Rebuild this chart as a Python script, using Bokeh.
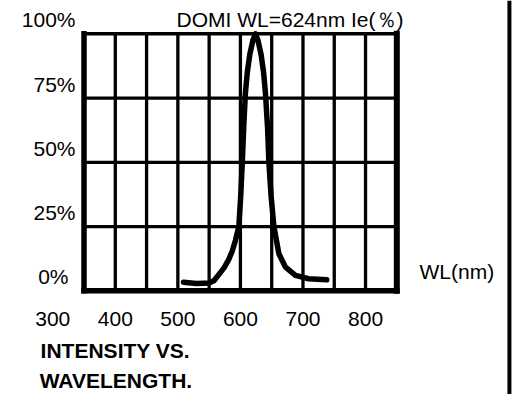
from bokeh.plotting import figure
from bokeh.models import Range1d
from bokeh.core.properties import value
from bokeh.embed import file_html
from bokeh.resources import INLINE

# ---- data ----
wavelength = [509, 530, 550, 558, 566, 574, 581, 587, 592, 597.5, 600.5, 603, 605.5, 608, 611, 615, 620,
              624, 628, 633, 637, 640, 643.5, 645.5, 649, 653.5, 661.5, 672, 688, 709, 738]
intensity = [3.3, 2.8, 3.0, 4.0, 6.5, 9.0, 12, 15.5, 19.6, 25, 37, 50, 65, 77, 85, 92, 97.5,
             100, 97.5, 92, 85, 77, 63, 50, 37, 25, 14.4, 9.2, 6.0, 4.7, 4.3]

x_grid = [400, 450, 500, 550, 600, 650, 700, 750, 800]
y_grid = [25, 50, 75]
x_min, x_max = 350, 850
y_min, y_max = 0, 100

x_tick_values = [300, 400, 500, 600, 700, 800]
x_tick_labels = ["300", "400", "500", "600", "700", "800"]
y_tick_values = [100, 75, 50, 25, 0]
y_tick_labels = ["100%", "75%", "50%", "25%", "0%"]

title_text = "DOMI WL=624nm  Ie(％)"
unit_text = "WL(nm)"
caption_lines = ["INTENSITY VS.", "WAVELENGTH."]

FONT = value("Liberation Sans")
FS = "21px"

X0, X1 = 216.5, 1047.7
Y0, Y1 = -40.35, 112.96

p = figure(width=520, height=394,
           x_range=Range1d(X0, X1), y_range=Range1d(Y0, Y1),
           output_backend="svg", toolbar_location=None,
           x_axis_location=None, y_axis_location=None,
           min_border=0, outline_line_color=None)
p.title.visible = False
p.xgrid.grid_line_color = None
p.ygrid.grid_line_color = None
p.background_fill_color = "white"
p.border_fill_color = "white"

# grid lines
p.segment(x0=x_grid, y0=[y_min] * len(x_grid), x1=x_grid, y1=[y_max] * len(x_grid),
          line_color="black", line_width=3.3)
p.segment(x0=[x_min] * len(y_grid), y0=y_grid, x1=[x_max] * len(y_grid), y1=y_grid,
          line_color="black", line_width=3.2)

# frame borders
p.segment(x0=[x_min], y0=[y_min], x1=[x_min], y1=[y_max], line_color="black", line_width=5.5, line_cap="square")
p.segment(x0=[x_max], y0=[y_min], x1=[x_max], y1=[y_max], line_color="black", line_width=6, line_cap="square")
p.segment(x0=[x_min], y0=[y_min], x1=[x_max], y1=[y_min], line_color="black", line_width=5.5, line_cap="square")
p.segment(x0=[x_min], y0=[y_max], x1=[x_max], y1=[y_max], line_color="black", line_width=3.5, line_cap="square")

# scanned page edge on the right
p.segment(x0=[1030], y0=[Y0], x1=[1030], y1=[Y1], line_color="black", line_width=4)

# spectrum curve
p.line(wavelength, intensity, line_color="black", line_width=5.5, line_join="round", line_cap="round")

# y tick labels
p.text(x=[x_min] * len(y_tick_values), y=y_tick_values, text=y_tick_labels,
       x_offset=[-8.5, -8.5, -8.5, -8.5, -15.5], y_offset=-14,
       text_font=FONT, text_font_size=FS, text_color="black",
       text_align="right", text_baseline="middle")

# x tick labels
p.text(x=x_tick_values, y=[y_min] * len(x_tick_values), text=x_tick_labels,
       y_offset=28.5, text_font=FONT, text_font_size=FS, text_color="black",
       text_align="center", text_baseline="middle")

# title
p.text(x=[684], y=[y_max], text=[title_text], y_offset=-14.6,
       text_font=FONT, text_font_size=FS, text_color="black",
       text_align="center", text_baseline="middle")

# unit label
p.text(x=[946], y=[y_min], text=[unit_text], y_offset=-19.8,
       text_font=FONT, text_font_size=FS, text_color="black",
       text_align="center", text_baseline="middle")

# caption
p.text(x=[400, 401], y=[y_min, y_min], text=caption_lines, y_offset=[59.2, 90],
       text_font=FONT, text_font_size=FS, text_font_style="bold", text_color="black",
       text_align="center", text_baseline="middle")

open("out.html", "w").write(file_html(p, INLINE))
